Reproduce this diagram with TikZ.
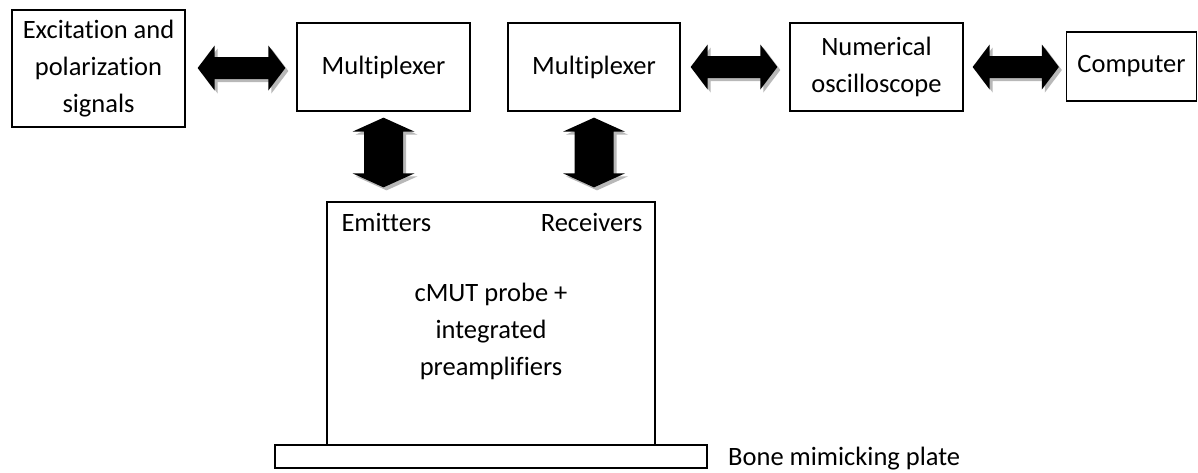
\documentclass[tikz,border=0pt]{standalone}
\usepackage{fontspec}
\setmainfont{Carlito}[Ligatures=NoCommon]
\usetikzlibrary{calc}
\tikzset{
  box/.style={draw=black, line width=1.3pt, inner sep=0pt, align=center, rectangle},
  lbl/.style={inner sep=0pt, align=center},
  arrowfill/.style={fill=black},
  arrowshadow/.style={fill=black!28},
}
% horizontal double block arrow between two points (same y as first)
\newcommand\harrow[2]{%
  \foreach \o/\st in {3pt/arrowshadow,0pt/arrowfill}{%
  \path let \p1=($(#1)+(\o,-\o)$), \p2=($(#2)+(\o,-\o)$) in
    [\st] (\x1,\y1) -- (\x1+17pt,\y1+22.5pt) -- (\x1+17pt,\y1+11pt)
    -- (\x2-17pt,\y1+11pt) -- (\x2-17pt,\y1+22.5pt) -- (\x2,\y1)
    -- (\x2-17pt,\y1-22.5pt) -- (\x2-17pt,\y1-11pt) -- (\x1+17pt,\y1-11pt)
    -- (\x1+17pt,\y1-22.5pt) -- cycle;}%
}
% vertical double block arrow: x of first point, from its y down to y of second
\newcommand\varrow[2]{%
  \foreach \o/\st in {3pt/arrowshadow,0pt/arrowfill}{%
  \path let \p1=($(#1)+(\o,-\o)$), \p2=($(#2)+(\o,-\o)$) in
    [\st] (\x1,\y1) -- (\x1+31pt,\y1-14pt) -- (\x1+19.5pt,\y1-14pt)
    -- (\x1+19.5pt,\y2+14pt) -- (\x1+31pt,\y2+14pt) -- (\x1,\y2)
    -- (\x1-31pt,\y2+14pt) -- (\x1-19.5pt,\y2+14pt) -- (\x1-19.5pt,\y1-14pt)
    -- (\x1-31pt,\y1-14pt) -- cycle;}%
}
\begin{document}
\begin{tikzpicture}[x=1pt,y=1pt,font=\fontsize{26.5}{37}\selectfont]
\useasboundingbox (0,0) rectangle (1198,-472);
\fill[white] (0,0) rectangle (1198,-472);

\node[box, minimum width=173, minimum height=117] (ex) at (98.5,-68.5)
  {Excitation and\\polarization\\signals};
\node[box, minimum width=173, minimum height=88] (m1) at (383.5,-67)
  {\raisebox{3pt}{Multiplexer}};
\node[box, minimum width=172, minimum height=88] (m2) at (594,-67)
  {\raisebox{3pt}{Multiplexer}};
\node[box, minimum width=173, minimum height=88] (osc) at (876.5,-67)
  {Numerical\\oscilloscope};
\node[box, minimum width=130, minimum height=69] (comp) at (1131.5,-66.5)
  {Computer};
\node[box, minimum width=328, minimum height=243] (probe) at (491,-323.5) {};
\node[box, minimum width=432, minimum height=23] (plate) at (491,-456.5) {};

\node[lbl, anchor=west] (em) at ($(probe.north west)+(15,-21)$) {Emitters};
\node[lbl, anchor=east] (rc) at ($(probe.north east)+(-13,-21)$) {Receivers};
\node[lbl, text depth=0pt] (cm) at ($(probe.center)+(0,-6)$)
  {cMUT probe +\\integrated\\preamplifiers};
\node[lbl, anchor=west] (bone) at (728,-458.5) {Bone mimicking plate};

\harrow{$(ex.east)+(12,0.5)$}{$(m1.west)+(-11,0)$}
\harrow{$(m2.east)+(10,0)$}{$(osc.west)+(-12,0)$}
\harrow{$(osc.east)+(9,0)$}{$(comp.west)+(-7,0)$}
\varrow{$(m1.south)+(0,-6)$}{$(probe.north)+(0,14)$}
\varrow{$(m2.south)+(0,-6)$}{$(probe.north)+(0,14)$}
\end{tikzpicture}
\end{document}
